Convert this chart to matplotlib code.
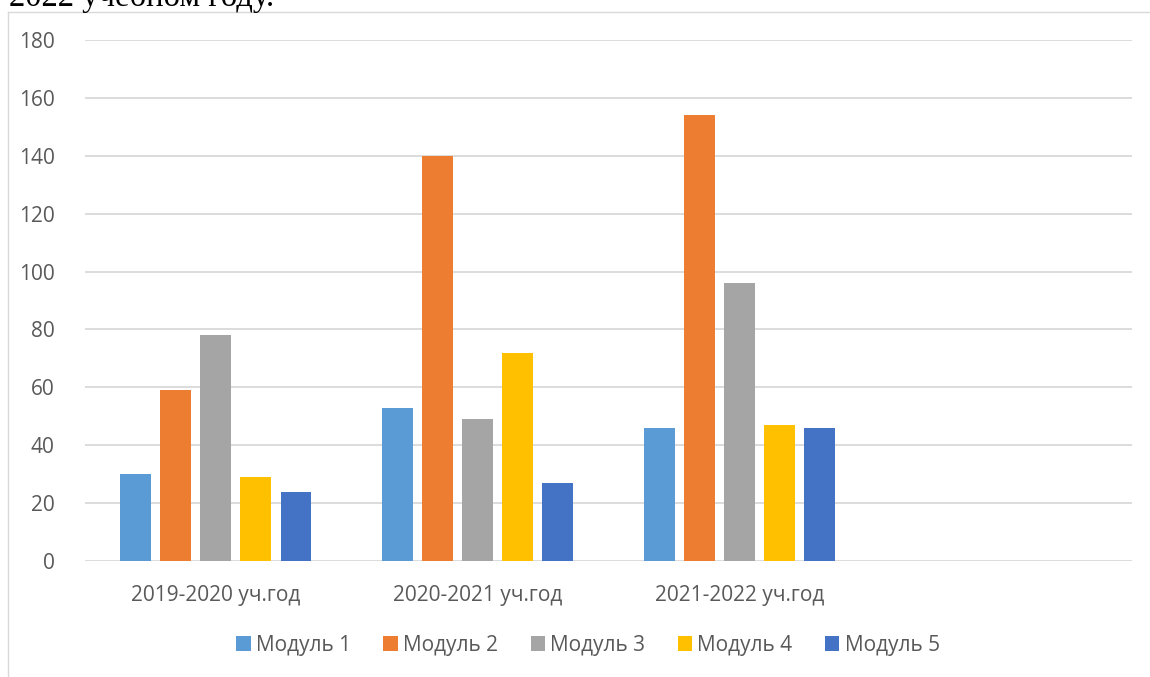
import matplotlib
matplotlib.use("Agg")
import matplotlib.pyplot as plt
import numpy as np
from matplotlib.lines import Line2D

categories = ["2019-2020 уч.год", "2020-2021 уч.год", "2021-2022 уч.год", ""]
series_names = ["Модуль 1", "Модуль 2", "Модуль 3", "Модуль 4", "Модуль 5"]
modul1 = [30, 53, 46, None]
modul2 = [59, 140, 154, None]
modul3 = [78, 49, 96, None]
modul4 = [29, 72, 47, None]
modul5 = [24, 27, 46, None]
series_values = [modul1, modul2, modul3, modul4, modul5]
colors = ["#5B9BD5", "#ED7D31", "#A5A5A5", "#FFC000", "#4472C4"]
yticks = [0, 20, 40, 60, 80, 100, 120, 140, 160, 180]

plt.rcParams['font.family'] = ['Open Sans', 'DejaVu Sans']

W, H = 1150, 677
fig = plt.figure(figsize=(W / 100, H / 100), dpi=100)
fig.patch.set_facecolor("white")

ax = fig.add_axes([85 / W, 1 - 561 / H, (1132 - 85) / W, (561 - 40) / H])
ax.set_xlim(-0.5, len(categories) - 0.5)
ax.set_ylim(0, 180)

bar_w = 0.118
pitch = 0.153
x = np.arange(len(categories))
for i, (name, vals, c) in enumerate(zip(series_names, series_values, colors)):
    v = [np.nan if a is None else a for a in vals]
    ax.bar(x + (i - 2) * pitch, v, width=bar_w, color=c, label=name, zorder=3)

ax.set_yticks(yticks)
ax.set_yticklabels([str(t) for t in yticks])
ax.set_xticks(x)
ax.set_xticklabels(categories)
ax.tick_params(axis='both', length=0, labelcolor="#595959", labelsize=15)
ax.tick_params(axis='y', pad=22)
ax.tick_params(axis='x', pad=17)
ax.grid(axis='y', color="#D9D9D9", linewidth=1.3, zorder=0)
for s in ax.spines.values():
    s.set_visible(False)

leg = fig.legend(loc='center', bbox_to_anchor=(588 / W, 1 - 645 / H), ncol=5,
                 frameon=False, fontsize=15, handlelength=0.7, handleheight=0.7,
                 handletextpad=0.25, columnspacing=1.55, labelcolor="#595959")

# chart border (top and left visible)
fig.add_artist(Line2D([8 / W, 1.0], [1 - 12 / H, 1 - 12 / H], color="#D9D9D9", linewidth=1.0,
                      transform=fig.transFigure))
fig.add_artist(Line2D([8 / W, 8 / W], [1 - 12 / H, 0], color="#D9D9D9", linewidth=1.0,
                      transform=fig.transFigure))

# cut-off document text above the chart
fig.text(9 / W, 1 - 6 / H, "2022 учебном году.", family="Liberation Serif", fontsize=23.5,
         color="black", ha="left", va="baseline")

fig.savefig("out.png", dpi=100)
